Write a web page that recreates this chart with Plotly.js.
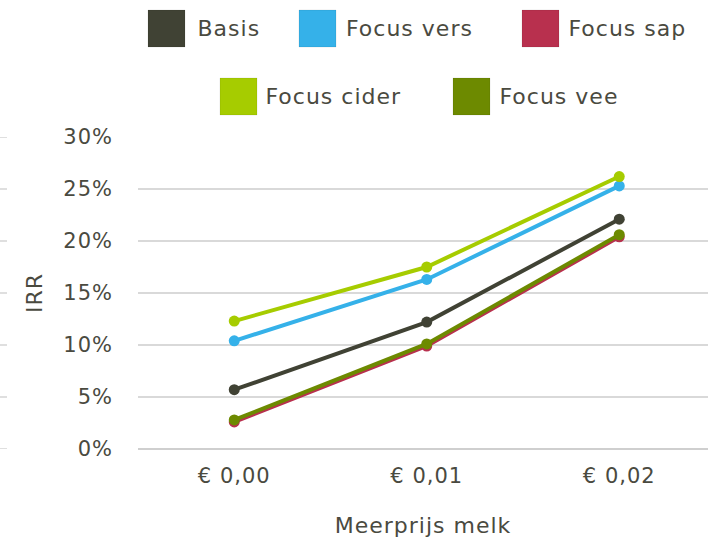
<!DOCTYPE html>
<html>
<head>
<meta charset="utf-8">
<script src="https://cdn.plot.ly/plotly-3.0.1.min.js"></script>
<style>
html,body{margin:0;padding:0;background:#fff;}
#chart{width:708px;height:545px;}
#chart text{letter-spacing:1px;}
</style>
</head>
<body>
<div id="chart"></div>
<script>
const categories = ["€ 0,00", "€ 0,01", "€ 0,02"];
const seriesNames = ["Basis", "Focus vers", "Focus sap", "Focus cider", "Focus vee"];
const basis = [0.057, 0.122, 0.221];
const focusVers = [0.104, 0.163, 0.253];
const focusSap = [0.026, 0.099, 0.204];
const focusCider = [0.123, 0.175, 0.262];
const focusVee = [0.028, 0.101, 0.206];
const yTickVals = [0, 0.05, 0.10, 0.15, 0.20, 0.25, 0.30];
const yTickText = ["0%", "5%", "10%", "15%", "20%", "25%", "30%"];
const xTitle = "Meerprijs melk";
const yTitle = "IRR";

const colors = ["#404234", "#35b1e9", "#b8304e", "#a6cc00", "#6d8a00"];
const allValues = [basis, focusVers, focusSap, focusCider, focusVee];
const textColor = "#4a4a3f";
const FONT = "DejaVu Sans, sans-serif";

const W = 708, H = 545;
const M = {l: 138, r: 0, t: 137, b: 96};
const pw = W - M.l - M.r, ph = H - M.t - M.b;
const px = x => (x - M.l) / pw;
const py = y => (H - M.b - y) / ph;

const traces = allValues.map((vals, i) => ({
  type: "scatter",
  mode: "lines+markers",
  name: seriesNames[i],
  x: categories,
  y: vals,
  line: {color: colors[i], width: 4},
  marker: {color: colors[i], size: 11},
  showlegend: false,
  cliponaxis: false
}));

// manual legend (large square swatches)
const legendItems = [
  {i: 0, sx: 148, sy: 10, tx: 198},
  {i: 1, sx: 299, sy: 10, tx: 349},
  {i: 2, sx: 522, sy: 10, tx: 571},
  {i: 3, sx: 220, sy: 78, tx: 269},
  {i: 4, sx: 453, sy: 78, tx: 502}
];
const SW = 37;
const shapes = [];
const annotations = [];
legendItems.forEach(it => {
  shapes.push({
    type: "rect", xref: "paper", yref: "paper",
    x0: px(it.sx), x1: px(it.sx + SW), y0: py(it.sy + SW), y1: py(it.sy),
    fillcolor: colors[it.i], line: {color: "rgba(0,0,0,0.08)", width: 1}
  });
  annotations.push({
    xref: "paper", yref: "paper", x: px(it.tx), y: py(it.sy + SW / 2),
    xanchor: "left", yanchor: "middle", showarrow: false,
    text: seriesNames[it.i], font: {family: FONT, size: 22, color: textColor}
  });
});
// cut-off gridline stubs at the far left edge
yTickVals.forEach(v => {
  shapes.push({
    type: "line", xref: "paper", yref: "y",
    x0: px(0), x1: px(7), y0: v, y1: v,
    line: {color: "#d4d4d4", width: 1.5}
  });
});

const layout = {
  width: W, height: H,
  margin: M,
  paper_bgcolor: "#fff", plot_bgcolor: "#fff",
  font: {family: FONT, size: 21, color: textColor},
  showlegend: false,
  xaxis: {
    type: "category",
    range: [-0.5, -0.5 + pw / 192.5],
    showgrid: false, zeroline: false, showline: false,
    ticks: "", ticklabelstandoff: 12,
    tickfont: {family: FONT, size: 21, color: textColor},
    title: {text: xTitle, standoff: 30, font: {family: FONT, size: 22, color: textColor}},
    automargin: false
  },
  yaxis: {
    range: [0, 0.30],
    tickvals: yTickVals, ticktext: yTickText,
    showgrid: true, gridcolor: "#d9d9d9", gridwidth: 1.5,
    zeroline: true, zerolinecolor: "#cfcfcf", zerolinewidth: 2,
    showline: false, ticks: "", ticklabelstandoff: 24,
    tickfont: {family: FONT, size: 21, color: textColor},
    title: {text: yTitle, standoff: 17, font: {family: FONT, size: 22, color: textColor}},
    automargin: false
  },
  shapes: shapes,
  annotations: annotations
};

Plotly.newPlot("chart", traces, layout, {displayModeBar: false, staticPlot: true});
</script>
</body>
</html>
